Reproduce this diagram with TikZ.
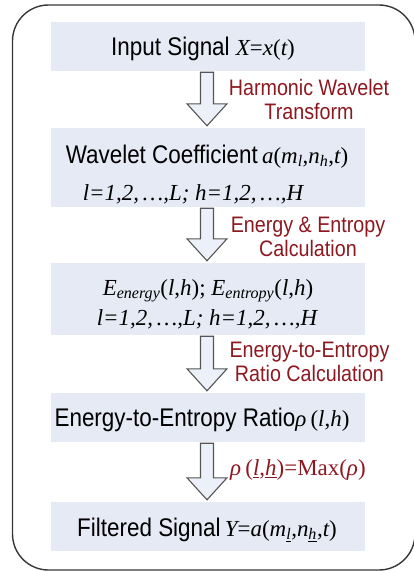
\documentclass[tikz,border=0pt]{standalone}
\usepackage{fontspec}
\setmainfont[FakeStretch=0.88]{Liberation Sans}
\newfontfamily\tms[Scale=0.9]{Liberation Serif}
\usetikzlibrary{calc}
\definecolor{boxfill}{RGB}{229,234,245}
\definecolor{arrfill}{RGB}{236,241,249}
\definecolor{arrline}{RGB}{85,85,85}
\definecolor{lblred}{RGB}{140,24,32}
\definecolor{framecol}{RGB}{55,55,55}
\newcommand\mi[1]{{\tms\itshape #1}}
\newcommand\mup[1]{{\tms #1}}
\newcommand\flowarrow[2]{%
  \draw[blockarr] let \p1=(#1.south), \p2=(#2.north) in
    ({\x1-7.5pt},{\y1-1pt}) -- ({\x1+5.5pt},{\y1-1pt}) -- ({\x1+5.5pt},{\y2+24pt})
    -- ({\x1+19pt},{\y2+24pt}) -- ({\x1-1pt},{\y2+2pt}) -- ({\x1-21pt},{\y2+24pt})
    -- ({\x1-7.5pt},{\y2+24pt}) -- cycle;}
\tikzset{
  stepbox/.style={fill=boxfill, draw=none, minimum width=314pt, inner sep=0pt},
  boxtxt/.style={font=\fontsize{25.5}{30}\selectfont, inner sep=0pt, anchor=base},
  lbl/.style={font=\fontsize{22.4}{24}\selectfont, text=lblred, align=center, inner sep=0pt},
  blockarr/.style={draw=arrline, fill=arrfill, line width=1.1pt, line join=miter},
  framebox/.style={draw=framecol, line width=1.4pt, rounded corners=36pt},
}
\begin{document}
\begin{tikzpicture}[x=1pt,y=-1pt]
\useasboundingbox (0,0) rectangle (414,571);
\draw[framebox] (12.5,5) rectangle (415,570);

\node[stepbox, minimum height=49pt] (b1) at (208,46.5) {};
\node[stepbox, minimum height=79pt] (b2) at (208,167.5) {};
\node[stepbox, minimum height=72pt] (b3) at (208,299) {};
\node[stepbox, minimum height=49pt] (b4) at (208,417.5) {};
\node[stepbox, minimum height=49pt] (b5) at (208,526.5) {};

\node[boxtxt] (t1) at (203,55) {Input Signal \mi{X}\mup{=}\mi{x}\mup{(}\mi{t}\mup{)}};
\node[boxtxt] (t2a) at (207,163) {Wavelet Coefficient\,\mi{a}\mup{(}\mi{m}\textsubscript{\mi{l}}\mup{,}\mi{n}\textsubscript{\mi{h}}\mup{,}\mi{t}\mup{)}};
\node[boxtxt] (t2b) at (193,200) {\mi{l=1,2,\,…,L; h=1,2,\,…,H}};
\node[boxtxt] (t3a) at (208,295) {\mi{E}\textsubscript{\mi{energy}}\mup{(}\mi{l}\mup{,}\mi{h}\mup{); }\mi{E}\textsubscript{\mi{entropy}}\mup{(}\mi{l}\mup{,}\mi{h}\mup{)}};
\node[boxtxt] (t3b) at (207,325) {\mi{l=1,2,\,…,L; h=1,2,\,…,H}};
\node[boxtxt] (t4) at (202,426) {Energy-to-Entropy Ratio\mi{ρ}\,\mup{(}\mi{l}\mup{,}\mi{h}\mup{)}};
\node[boxtxt] (t5) at (207,536) {Filtered Signal\,\mi{Y}\mup{=}\mi{a}\mup{(}\mi{m}\textsubscript{\mi{\underline{l}}}\mup{,}\mi{n}\textsubscript{\mi{\underline{h}}}\mup{,}\mi{t}\mup{)}};

\flowarrow{b1}{b2}
\flowarrow{b2}{b3}
\flowarrow{b3}{b4}
\flowarrow{b4}{b5}

\node[lbl] (l1) at (309,99) {Harmonic Wavelet\\Transform};
\node[lbl] (l2) at (308,236.5) {Energy \& Entropy\\Calculation};
\node[lbl] (l3) at (309.5,361.5) {Energy-to-Entropy\\Ratio Calculation};
\node[lbl, anchor=west, font=\fontsize{25.5}{28}\selectfont] (l4) at (230,470) {\mi{ρ}\,\mup{(}\mi{\underline{l}}\mup{,}\mi{\underline{h}}\mup{)=Max(}\mi{ρ}\mup{)}};
\end{tikzpicture}
\end{document}
